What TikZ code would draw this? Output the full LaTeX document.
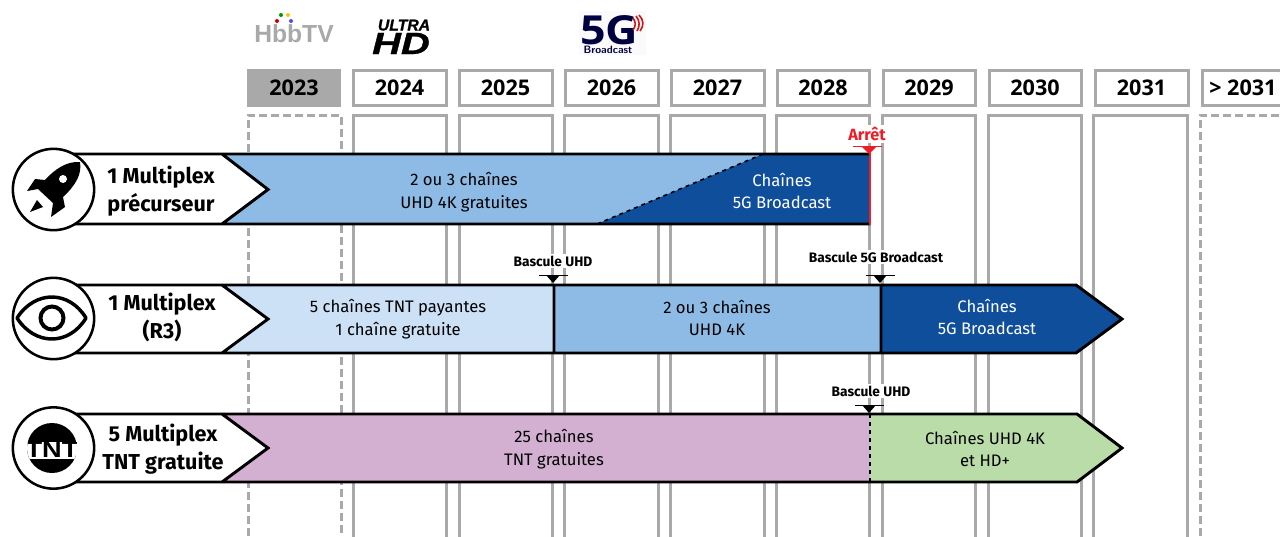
\documentclass[tikz,border=0pt]{standalone}
\usepackage{fontspec}
\setmainfont{Fira Sans}
\newfontfamily\yearfont{Open Sans}
\newfontfamily\logofont[BoldItalicFeatures={FakeBold=1}]{Liberation Sans}
\definecolor{colgray}{HTML}{A9A9A9}
\definecolor{lightband}{HTML}{CDE1F6}
\definecolor{midband}{HTML}{8DBBE5}
\definecolor{darkband}{HTML}{0F4E9B}
\definecolor{purpleband}{HTML}{D3AFD2}
\definecolor{greenband}{HTML}{BADCA8}
\definecolor{stopred}{HTML}{EE1C25}
\begin{document}
\begin{tikzpicture}[x=0.75pt,y=-0.75pt,
  yearbox/.style={draw=colgray,line width=2.25pt,fill=white},
  col/.style={draw=colgray,line width=2.25pt},
  col open/.style={draw=colgray,line width=2.25pt,dash pattern=on 6pt off 3pt},
  yeartxt/.style={font=\yearfont\bfseries\fontsize{16.2}{18}\selectfont},
  outline/.style={draw=black,line width=2.2pt,line join=miter},
  rowtxt/.style={align=center,font=\bfseries\fontsize{16.2}{21}\selectfont},
  bandtxt/.style={align=center,font=\fontsize{12.5}{17.2}\selectfont},
  switchtxt/.style={fill=white,inner sep=1.5pt,font=\bfseries\fontsize{10.3}{11}\selectfont},
  round/.style={draw=black,line width=1.9pt,fill=white}]

\clip (0,0) rectangle (1280,536);
\path[fill=white] (0,0) rectangle (1280,536);

%logos above the years
\node[text=colgray,font=\logofont\bfseries\fontsize{18.5}{24}\selectfont,inner sep=0] (hbb) at (294,34) {HbbTV};
\fill[red!80!black]   (277,21) circle (2);
\fill[green!60!black] (281,15) circle (2);
\fill[yellow!80!red]  (288,15) circle (2);
\fill[blue!70]        (291,21) circle (2);
\node[font=\logofont\bfseries\itshape\fontsize{11.8}{13}\selectfont,inner sep=0,anchor=base,text height=8.5pt,text depth=0pt] (ultra) at (404,30.5) {ULTRA};
\node[font=\logofont\bfseries\itshape\fontsize{23}{25}\selectfont,inner sep=0,xscale=1.3,anchor=base,text height=16.5pt,text depth=0pt] (hd) at (401,54) {HD};
\fill[black!2] (579,11) rectangle (646,55);
\node[text=black!75!blue,font=\yearfont\bfseries\fontsize{30}{31}\selectfont,inner sep=0,xscale=1.12,anchor=base,text height=21.5pt,text depth=0pt] (fiveg) at (609,44) {5G};
\node[text=black!75!blue,font=\sffamily\bfseries\fontsize{8}{9}\selectfont,inner sep=0,anchor=base,text height=5.6pt,text depth=0pt] (bcast) at (608,53) {Broadcast};
\draw[stopred!85!black,line width=1.2pt] (633,18) .. controls (636,22) and (636,26) .. (633,30);
\draw[stopred!85!black,line width=1.2pt] (636,16) .. controls (640,21) and (640,26) .. (637,31);
\draw[stopred!85!black,line width=1.2pt] (639,15) .. controls (644,20) and (644,26) .. (640,31);

%year columns
\draw[col open] (248,560) -- (248,115) -- (341,115) -- (341,560);
\foreach \xa/\xb in {353/446,459/552,564/658,670/764,776/869,882/975,988/1081,1093/1187}
  \draw[col] (\xa,560) -- (\xa,115) -- (\xb,115) -- (\xb,560);
\draw[col open] (1200,560) -- (1200,115) -- (1290,115);

%year boxes
\node[fill=colgray,minimum width=70.5pt,minimum height=28.5pt,inner sep=0,yeartxt] (y2023) at (294,88) {2023};
\foreach \xa/\xb/\yr in {353/446/2024,459/552/2025,565/658/2026,671/764/2027,777/869/2028,883/975/2029,989/1081/2030,1095/1188/2031}
  \draw[yearbox] (\xa,70.5) rectangle (\xb,105) node[midway,yeartxt,text=black] (y\yr) {\yr};
\draw[yearbox] (1202,70.5) rectangle (1290,105);
\node[yeartxt,anchor=west,inner sep=0] (ylast) at (1209,88) {> 2031};

%row one
\fill[white] (53,154) -- (222,154) -- (268,189.5) -- (222,224) -- (53,224) -- cycle;
\fill[midband] (222,154) -- (870,154) -- (870,224) -- (222,224) -- (268,189.5) -- cycle;
\fill[darkband] (763,154) -- (870,154) -- (870,224) -- (597,224) -- cycle;
\draw[black,line width=1.2pt,dashed] (763,154) -- (597,224);
\draw[outline] (870,154) -- (53,154) (222,154) -- (268,189.5) -- (222,224) (53,224) -- (870,224);
\draw[stopred,line width=1pt] (870,153) -- (870,225);

%row two
\fill[white] (53,285) -- (222,285) -- (268,319) -- (222,353) -- (53,353) -- cycle;
\fill[lightband] (222,285) -- (554,285) -- (554,353) -- (222,353) -- (268,319) -- cycle;
\fill[midband] (554,285) rectangle (881,353);
\fill[darkband] (881,285) -- (1076,285) -- (1122,319) -- (1076,353) -- (881,353) -- cycle;
\draw[outline] (53,285) -- (1076,285) -- (1122,319) -- (1076,353) -- (53,353)
  (222,285) -- (268,319) -- (222,353) (554,285) -- (554,353) (881,285) -- (881,353);

%row three
\fill[white] (53,414) -- (222,414) -- (268,448) -- (222,482) -- (53,482) -- cycle;
\fill[purpleband] (222,414) -- (870,414) -- (870,482) -- (222,482) -- (268,448) -- cycle;
\fill[greenband] (870,414) -- (1077,414) -- (1122,448) -- (1077,482) -- (870,482) -- cycle;
\draw[outline] (53,414) -- (1077,414) -- (1122,448) -- (1077,482) -- (53,482)
  (222,414) -- (268,448) -- (222,482);
\draw[black,line width=1.2pt,dashed] (870,414) -- (870,482);

%row labels and band texts
\node[rowtxt] (mux1) at (161,191) {1 Multiplex\\précurseur};
\node[rowtxt] (mux2) at (162,317) {1 Multiplex\\(R3)};
\node[rowtxt] (mux3) at (163,449) {5 Multiplex\\TNT gratuite};
\node[bandtxt] (uhdfree) at (464,192) {2 ou 3 chaînes\\UHD 4K gratuites};
\node[bandtxt,text=white] (fiveA) at (782,191) {Chaînes\\5G Broadcast};
\node[bandtxt] (pay) at (398,319) {5 chaînes TNT payantes\\1 chaîne gratuite};
\node[bandtxt] (uhdfour) at (717,318) {2 ou 3 chaînes\\UHD 4K};
\node[bandtxt,text=white] (fiveB) at (987,317) {Chaînes\\5G Broadcast};
\node[bandtxt] (tnt25) at (554,449) {25 chaînes\\TNT gratuites};
\node[bandtxt] (hdplus) at (985,449) {Chaînes UHD 4K\\et HD+};

%switch markers
\node[switchtxt] (swA) at (553,261) {Bascule UHD};
\node[switchtxt] (swB) at (876,257) {Bascule 5G Broadcast};
\node[switchtxt] (swC) at (871,391) {Bascule UHD};
\node[switchtxt,text=stopred,font=\bfseries\fontsize{12.2}{13}\selectfont] (stop) at (867,134) {Arrêt};
\foreach \mx/\my in {553/275,880/275,869/405}{
  \draw[black,line width=0.7pt] (\mx-14.5,\my) -- (\mx+14.5,\my);
  \fill[black] (\mx-7,\my) -- (\mx+7,\my) -- (\mx,\my+8) -- cycle;
}
\draw[stopred,line width=0.7pt] (853,146) -- (882,146);
\fill[stopred] (861,146) -- (877,146) -- (869,154) -- cycle;

%icons
\node[round,circle,minimum size=61pt,inner sep=0] (rocket) at (53.5,189.5) {};
\node[round,circle,minimum size=61pt,inner sep=0] (eye) at (53.5,318.5) {};
\node[round,circle,minimum size=61pt,inner sep=0] (tnt) at (53.5,448) {};

\fill[black] (80,162) .. controls (66,161) and (54,170) .. (45,180) -- (35,179) -- (27,191) -- (38,189)
  -- (53,203) -- (51,217) -- (65,207) -- (63,197) .. controls (76,185) and (82,174) .. (80,162) -- cycle;
\fill[white] (63,179) circle (4);
\fill[black] (37,200) -- (30,212) -- (43,207) -- cycle;

\draw[black,line width=2.6pt,line join=round] (17,318) .. controls (35,290) and (69,290) .. (86,318)
  .. controls (69,346) and (35,346) .. (17,318) -- cycle;
\draw[black,line width=3pt] (52,318) circle (11.5);

\begin{scope}
\clip (52,448) circle (25);
\fill[black] (27,423) rectangle (77,473);
\fill[white] (20,442) rectangle (84,459);
\node[font=\logofont\bfseries\fontsize{17}{18}\selectfont,inner sep=0,xscale=1.2] (tntlogo) at (52,450) {TNT};
\end{scope}

\end{tikzpicture}
\end{document}
